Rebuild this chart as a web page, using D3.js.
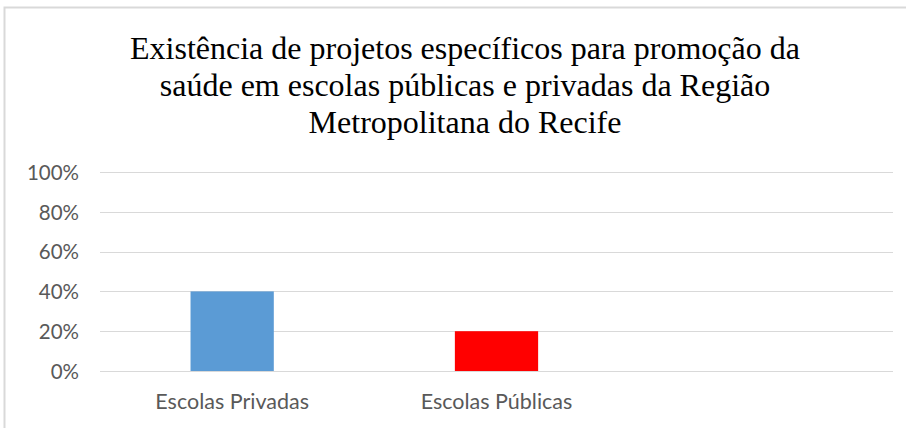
<!DOCTYPE html>
<html>
<head>
<meta charset="utf-8">
<script src="https://cdn.jsdelivr.net/npm/d3@7"></script>
<style>
  body { margin: 0; background: #fff; }
  #chart { width: 906px; height: 428px; }
</style>
</head>
<body>
<div id="chart"></div>
<script>
// data
const categories = ["Escolas Privadas", "Escolas Públicas", ""];
const values = [0.40, 0.20, null];
const barColors = ["#5B9BD5", "#FF0000", "#A5A5A5"];
const yTicks = [0, 0.2, 0.4, 0.6, 0.8, 1.0];
const titleLines = [
  "Existência de projetos específicos para promoção da",
  "saúde em escolas públicas e privadas da Região",
  "Metropolitana do Recife"
];

const W = 906, H = 428;
const margin = {top: 172, right: 13, bottom: 57, left: 100};
const width = W - margin.left - margin.right,
    height = H - margin.top - margin.bottom;

let svg = d3.select("#chart")
    .append("svg")
    .attr("width", W)
    .attr("height", H);

// chart frame (only top and left edges are visible in the picture)
svg.append("rect")
    .attr("x", 4.5)
    .attr("y", 7.5)
    .attr("width", W + 20)
    .attr("height", H + 20)
    .attr("fill", "#fff")
    .attr("stroke", "#d9d9d9")
    .attr("stroke-width", 2);

// title
svg.append("g")
    .selectAll("text")
    .data(titleLines)
    .join("text")
    .attr("x", 465)
    .attr("y", (d, i) => 59 + i * 37)
    .attr("text-anchor", "middle")
    .style("font-family", "'Liberation Serif', 'Times New Roman', serif")
    .style("font-size", "32px")
    .attr("fill", "#000")
    .text(d => d);

let group = svg.append("g")
    .attr("transform", "translate(" + margin.left + "," + margin.top + ")");

let x = d3.scaleBand()
    .domain(d3.range(categories.length))
    .range([0, width])
    .paddingInner(0.685)
    .paddingOuter(0.3425);

let y = d3.scaleLinear()
    .domain([0, 1])
    .range([height, 0]);

// gridlines
group.append("g")
    .selectAll("line")
    .data(yTicks)
    .join("line")
    .attr("x1", 0)
    .attr("x2", width)
    .attr("y1", d => Math.round(y(d)) + 0.5)
    .attr("y2", d => Math.round(y(d)) + 0.5)
    .attr("stroke", "#d9d9d9")
    .attr("stroke-width", 1);

// y axis labels
let yAxis = group.append("g")
    .call(d3.axisLeft(y).tickValues(yTicks).tickFormat(d3.format(".0%")).tickSize(0).tickPadding(21));
yAxis.select(".domain").remove();
yAxis.selectAll("text")
    .attr("dy", "0.36em")
    .style("font-family", "Lato, 'Open Sans', sans-serif")
    .style("font-size", "20.5px")
    .attr("fill", "#595959");

// bars
group.append("g")
    .selectAll("rect")
    .data(values.map((v, i) => ({v: v, i: i})).filter(d => d.v !== null))
    .join("rect")
    .attr("x", d => x(d.i))
    .attr("y", d => y(d.v))
    .attr("width", x.bandwidth())
    .attr("height", d => height - y(d.v))
    .attr("fill", d => barColors[d.i]);

// x axis labels
let xAxis = group.append("g")
    .attr("transform", "translate(0," + height + ")")
    .call(d3.axisBottom(x).tickFormat(i => categories[i]).tickSize(0).tickPadding(23));
xAxis.select(".domain").remove();
xAxis.selectAll("text")
    .style("font-family", "Lato, 'Open Sans', sans-serif")
    .style("font-size", "21.5px")
    .attr("fill", "#595959");
</script>
</body>
</html>
